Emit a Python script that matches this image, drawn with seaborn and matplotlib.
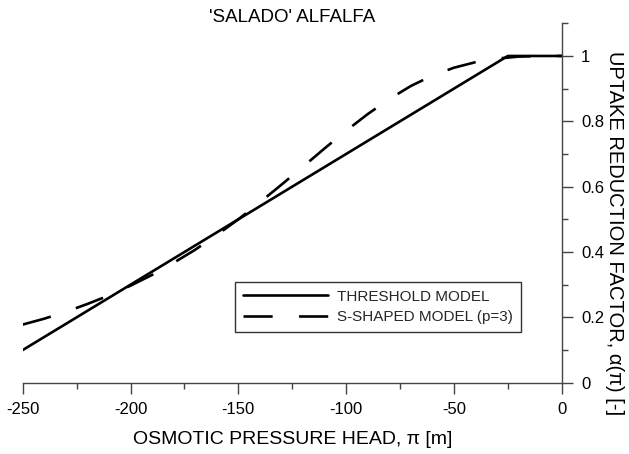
import matplotlib
matplotlib.use("Agg")
import matplotlib.pyplot as plt
from matplotlib.ticker import MultipleLocator
import seaborn as sns
import pandas as pd

# Data
threshold_x = [-250, -25, 0]
threshold_y = [0.10, 1.00, 1.00]

s_x = [-250, -240, -230, -220, -210, -200, -190, -180, -170, -160, -150,
       -140, -130, -120, -110, -100, -90, -80, -70, -60, -50, -40, -30,
       -20, -10, 0]
s_y = [0.178, 0.196, 0.217, 0.241, 0.267, 0.297, 0.330, 0.367, 0.407,
       0.452, 0.500, 0.552, 0.606, 0.661, 0.717, 0.771, 0.822, 0.868,
       0.908, 0.940, 0.964, 0.981, 0.992, 0.998, 1.000, 1.000]

labels = ["THRESHOLD MODEL", "S-SHAPED MODEL (p=3)"]
title = "'SALADO' ALFALFA"
xlabel = "OSMOTIC PRESSURE HEAD, π [m]"
ylabel = "UPTAKE REDUCTION FACTOR, α(π) [-]"

sns.set_theme(style="white")
plt.rcParams["font.family"] = ["Liberation Sans", "DejaVu Sans"]
plt.rcParams["lines.scale_dashes"] = False

fig = plt.figure(figsize=(6.29, 4.54), dpi=100)
ax = fig.add_axes([0.0361, 0.157, 0.893 - 0.0361, 0.9487 - 0.157])

df_t = pd.DataFrame({"x": threshold_x, "y": threshold_y})
df_s = pd.DataFrame({"x": s_x, "y": s_y})

sns.lineplot(data=df_t, x="x", y="y", ax=ax, color="black", lw=1.9,
             label=labels[0], sort=False)
sns.lineplot(data=df_s, x="x", y="y", ax=ax, color="black", lw=1.9,
             label=labels[1], sort=False)
ax.lines[1].set_dashes((21, 19))
ax.lines[1].set_dash_capstyle("butt")

ax.set_xlim(-250, 0)
ax.set_ylim(0, 1.1)

for s in ["left", "top"]:
    ax.spines[s].set_visible(False)
for s in ["right", "bottom"]:
    ax.spines[s].set_color("#444444")
    ax.spines[s].set_linewidth(1.0)

ax.yaxis.tick_right()
ax.xaxis.set_major_locator(MultipleLocator(50))
ax.xaxis.set_minor_locator(MultipleLocator(25))
ax.yaxis.set_minor_locator(MultipleLocator(0.1))
ax.set_yticks([0, 0.2, 0.4, 0.6, 0.8, 1.0])
ax.set_yticklabels(["0", "0.2", "0.4", "0.6", "0.8", "1"])
ax.set_xticks([-250, -200, -150, -100, -50, 0])
ax.set_xticklabels(["-250", "-200", "-150", "-100", "-50", "0"])

ax.tick_params(axis="both", which="major", direction="out", length=8,
               width=1, color="#444444", labelsize=12, pad=6,
               labelcolor="black")
ax.tick_params(axis="both", which="minor", direction="out", length=4,
               width=1, color="#444444")
ax.tick_params(axis="y", which="both", left=False, right=True)
ax.tick_params(axis="x", which="both", bottom=True, top=False)

ax.set_xlabel(xlabel, fontsize=14, labelpad=10, color="black")
ax.set_ylabel("")
fig.text(0.977, 0.487, ylabel, rotation=270, fontsize=14.5,
         ha="center", va="center", color="black")
fig.text(0.4645, 0.962, title, fontsize=13.5, ha="center", va="center",
         color="black")

leg = ax.legend(loc="lower left", bbox_to_anchor=(0.394, 0.141),
                borderaxespad=0, fancybox=False, frameon=True,
                edgecolor="black", fontsize=11, handlelength=5.6,
                handletextpad=0.6, borderpad=0.5, labelspacing=0.45)
leg.get_frame().set_linewidth(1.0)

ax.grid(False)
fig.savefig("out.png", dpi=100)
